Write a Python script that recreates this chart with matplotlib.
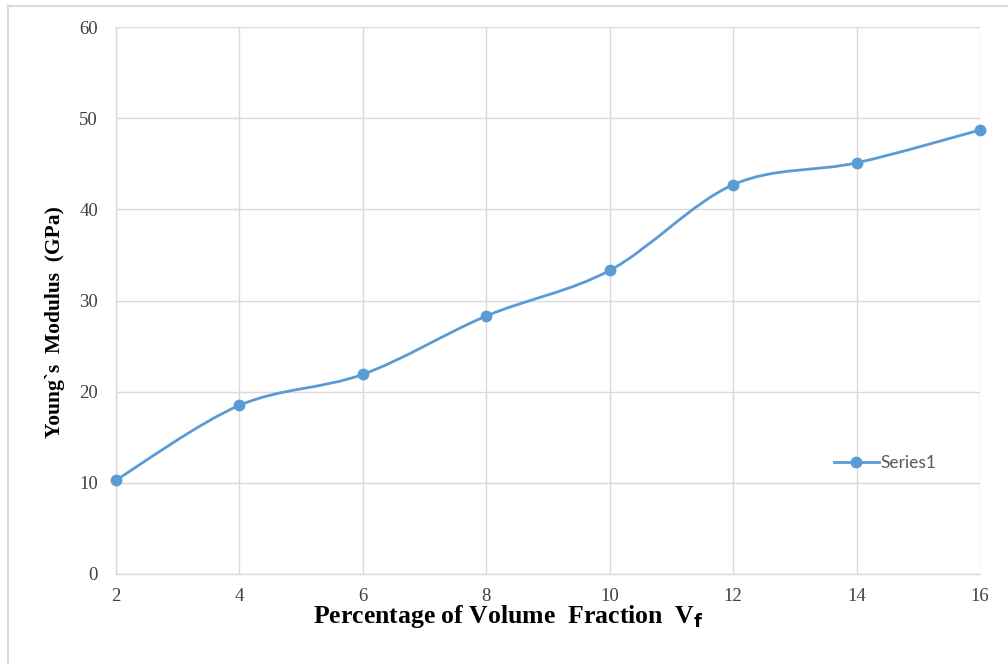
import matplotlib
matplotlib.use("Agg")
import matplotlib.pyplot as plt
from matplotlib.path import Path
from matplotlib.patches import PathPatch
from matplotlib.lines import Line2D
import numpy as np

# Volume fraction (%) and measured Young's modulus (GPa)
volume_fraction = [2, 4, 6, 8, 10, 12, 14, 16]
youngs_modulus = [10.3, 18.5, 21.9, 28.3, 33.3, 42.7, 45.1, 48.7]
x_ticks = [2, 4, 6, 8, 10, 12, 14, 16]
y_ticks = [0, 10, 20, 30, 40, 50, 60]
series_name = "Series1"

line_color = "#5B9BD5"
grid_color = "#D9D9D9"
tick_color = "#404040"
serif = ["Liberation Serif", "DejaVu Serif"]

fig = plt.figure(figsize=(10.08, 6.64), dpi=100)
ax = fig.add_axes([116 / 1008, 1 - 574 / 664, (980 - 116) / 1008, (574 - 27) / 664])

# Outer chart frame (left and top edges visible)
fig.add_artist(Line2D([8 / 1008, 8 / 1008], [0, 1 - 6 / 664], transform=fig.transFigure,
                      color=grid_color, lw=1.5))
fig.add_artist(Line2D([8 / 1008, 1], [1 - 6 / 664, 1 - 6 / 664], transform=fig.transFigure,
                      color=grid_color, lw=1.5))

# Smoothed line: cubic Bezier segments through every point (Catmull-Rom style tangents)
pts = np.column_stack([volume_fraction, youngs_modulus]).astype(float)
n = len(pts)
verts = [pts[0]]
codes = [Path.MOVETO]
for i in range(n - 1):
    p_prev = pts[i - 1] if i > 0 else pts[i]
    p0 = pts[i]
    p1 = pts[i + 1]
    p_next = pts[i + 2] if i + 2 < n else pts[i + 1]
    c1 = p0 + (p1 - p_prev) / 6.0
    c2 = p1 - (p_next - p0) / 6.0
    verts += [c1, c2, p1]
    codes += [Path.CURVE4] * 3
curve = PathPatch(Path(verts, codes), facecolor="none", edgecolor=line_color,
                  lw=2.0, capstyle="round", joinstyle="round", zorder=3)
ax.add_patch(curve)
ax.plot(volume_fraction, youngs_modulus, linestyle="none", marker="o",
        markersize=7.5, color=line_color, zorder=4, clip_on=False)

ax.set_xlim(2, 16)
ax.set_ylim(0, 60)
ax.set_xticks(x_ticks)
ax.set_yticks(y_ticks)
ax.grid(True, color=grid_color, lw=1.0)
ax.set_axisbelow(True)
for side in ["top", "right"]:
    ax.spines[side].set_visible(False)
for side in ["left", "bottom"]:
    ax.spines[side].set_color(grid_color)
    ax.spines[side].set_linewidth(1.0)
ax.tick_params(axis="both", length=0, colors=tick_color)
ax.tick_params(axis="y", pad=13)
ax.tick_params(axis="x", pad=10)
for lbl in ax.get_xticklabels() + ax.get_yticklabels():
    lbl.set_fontfamily(serif)
    lbl.set_fontsize(13.5)

ax.set_xlabel(r"Percentage of Volume  Fraction  V$_\mathbf{f}$", fontfamily=serif,
              fontsize=18.5, fontweight="bold", color="black")
ax.xaxis.set_label_coords((508 - 116) / 864, -(617 - 574) / 547)
ax.xaxis.label.set_verticalalignment("center")
ax.set_ylabel("Young`s  Modulus  (GPa)", fontfamily=serif, fontsize=15.5,
              fontweight="bold", color="black")
ax.yaxis.set_label_coords(-(116 - 55) / 864, (574 - 322) / 547)
ax.yaxis.label.set_verticalalignment("center")

handle = Line2D([], [], color=line_color, lw=2.0, marker="o", markersize=7.5)
leg = ax.legend([handle], [series_name], loc="center left",
                bbox_to_anchor=((818 - 116) / 864, (574 - 463) / 547),
                frameon=False, handlelength=2.6, handletextpad=0.1,
                prop={"family": ["Lato", "DejaVu Sans"], "size": 12.5})
for t in leg.get_texts():
    t.set_color("#595959")

fig.savefig("out.png", dpi=100, facecolor="white")
